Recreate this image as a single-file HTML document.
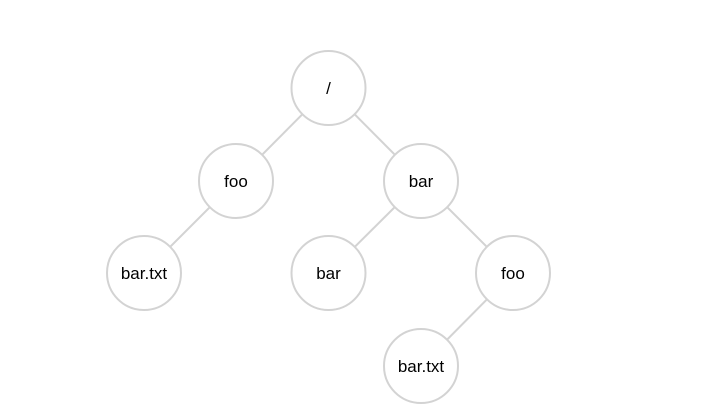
<!DOCTYPE html>
<html><head><style>html,body{margin:0;padding:0;background:#fff;overflow:hidden;width:724px;height:417px}svg{display:block}</style></head><body>
<svg width="724" height="417" xmlns="http://www.w3.org/2000/svg" font-family="Liberation Sans, sans-serif" font-size="17">
<g stroke="#d3d3d3" stroke-width="2" fill="none">
<line x1="328.5" y1="88" x2="236" y2="181"/>
<line x1="328.5" y1="88" x2="421" y2="181"/>
<line x1="236" y1="181" x2="144" y2="273"/>
<line x1="421" y1="181" x2="328.5" y2="273"/>
<line x1="421" y1="181" x2="513" y2="273"/>
<line x1="513" y1="273" x2="421" y2="366"/>
</g>
<g stroke="#d3d3d3" stroke-width="2" fill="#fff">
<circle cx="328.5" cy="88" r="37"/>
<circle cx="236" cy="181" r="37"/>
<circle cx="421" cy="181" r="37"/>
<circle cx="144" cy="273" r="37"/>
<circle cx="328.5" cy="273" r="37"/>
<circle cx="513" cy="273" r="37"/>
<circle cx="421" cy="366" r="37"/>
</g>
<g text-anchor="middle" fill="#000">
<text x="328.5" y="94">/</text>
<text x="236" y="187">foo</text>
<text x="421" y="187">bar</text>
<text x="144" y="279">bar.txt</text>
<text x="328.5" y="279">bar</text>
<text x="513" y="279">foo</text>
<text x="421" y="372">bar.txt</text>
</g>
</svg>
</body></html>
